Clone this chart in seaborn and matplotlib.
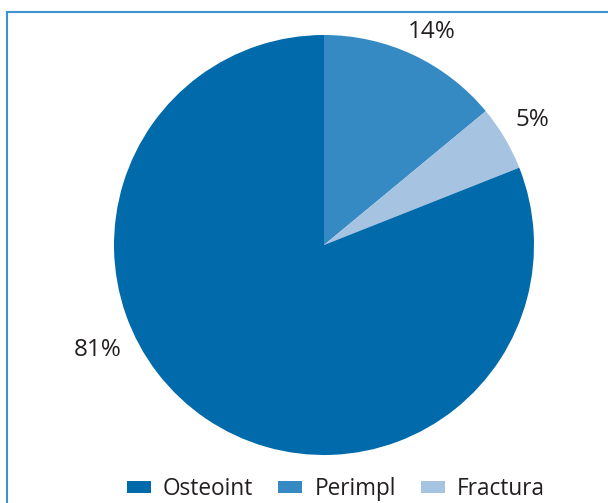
import matplotlib
matplotlib.use("Agg")
import matplotlib.pyplot as plt
import seaborn as sns
from matplotlib.patches import Rectangle

# Data (legend order)
categories = ["Osteoint", "Perimpl", "Fractura"]
values = [81, 14, 5]
colors = ["#006aab", "#358ac3", "#a6c3e1"]

sns.set_theme(style="white")
plt.rcParams["font.family"] = ["Open Sans", "DejaVu Sans"]

W, H = 608, 503
fig = plt.figure(figsize=(W / 100, H / 100), dpi=100)
ax = fig.add_axes([0, 0, 1, 1])

# Drawing order: clockwise from 12 o'clock -> Perimpl, Fractura, Osteoint
order = [1, 2, 0]
cx, cy, r = 324, H - 245, 210
wedges, texts, autotexts = ax.pie(
    [values[i] for i in order],
    colors=[colors[i] for i in order],
    startangle=90,
    counterclock=False,
    center=(cx, cy),
    radius=r,
    autopct="%d%%",
    pctdistance=1.14,
    textprops=dict(fontsize=17.5, color="#231f20"),
    wedgeprops=dict(linewidth=0),
    frame=False,
)
# Excel-style placement of the slice labels
for t, i in zip(autotexts, order):
    if i == 0:
        t.set_position((98, H - 350))
    elif i == 2:
        t.set_position((532, H - 120))
    elif i == 1:
        t.set_position((432, H - 32))

ax.set_xlim(0, W)
ax.set_ylim(0, H)
ax.set_aspect("auto")
ax.axis("off")

# Frame border (top-left visible)
fig.add_artist(Rectangle((7 / W, -0.1), 1.2, 1 - 11.5 / H + 0.1,
                         transform=fig.transFigure, fill=False,
                         edgecolor="#3b93cf", linewidth=1.5, clip_on=False))

# Legend in category order
handles = [wedges[order.index(i)] for i in range(3)]
leg = fig.legend(handles, categories, loc="center", bbox_to_anchor=(336 / W, 1 - 489 / H),
                 ncol=3, frameon=False, fontsize=16.3, handlelength=1.05, handleheight=0.5,
                 handletextpad=0.55, columnspacing=1.1, borderaxespad=0, borderpad=0)
for t in leg.get_texts():
    t.set_color("#231f20")

fig.savefig("out.png", dpi=100)
